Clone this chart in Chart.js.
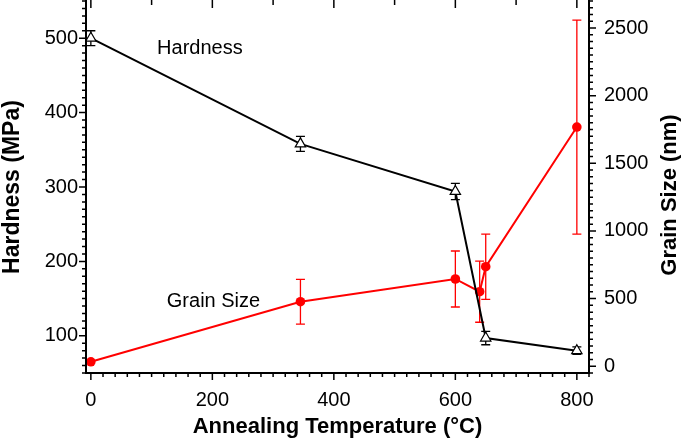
<!DOCTYPE html>
<html lang="en">

<head>
    <meta charset="UTF-8">
    <title>Hardness and Grain Size vs Annealing Temperature</title>
    <script src="https://cdn.jsdelivr.net/npm/chart.js"></script>
    <style>
        body { margin: 0; background: #fff; }
    </style>
</head>

<body>
    <canvas id="chart" width="685" height="443"></canvas>

    <script>
        // Hardness (left axis, MPa)
        const hardTemps = [0, 345, 600, 650, 800];
        const hardness = [500, 358, 294, 97, 80];
        const hardnessErr = [10, 10, 11, 9, 5];

        // Grain size (right axis, nm)
        const grainTemps = [0, 345, 600, 640, 650, 800];
        const grainSize = [33, 477, 645, 551, 736, 1768];
        const grainErr = [0, 165, 207, 226, 241, 791];

        // tick values
        const xMajor = [0, 200, 400, 600, 800];
        const hardMajor = [100, 200, 300, 400, 500];
        const grainMajor = [0, 500, 1000, 1500, 2000, 2500];

        const FONT = 'Liberation Sans, Arial, sans-serif';
        const RED = '#ff0000';

        const range = (a, b, step) => {
            const out = [];
            for (let v = a; v <= b + 1e-9; v += step) out.push(v);
            return out;
        };

        // fixed axis sizes, no extra label padding
        const fixSize = (w, h) => s => {
            if (w) s.width = w;
            if (h) s.height = h;
            s.paddingTop = 0; s.paddingBottom = 0;
            s.paddingLeft = 0; s.paddingRight = 0;
        };

        // frame, tick marks, error bars, titles
        const decor = {
            id: 'decor',
            beforeDatasetsDraw(chart) {
                const { ctx, scales } = chart;
                const x = scales.x, yl = scales.y, yr = scales.y1;
                const drawErr = (xs, ys, errs, scale, color) => {
                    ctx.save();
                    ctx.strokeStyle = color;
                    ctx.lineWidth = 1.3;
                    xs.forEach((t, i) => {
                        if (!errs[i]) return;
                        const px = x.getPixelForValue(t);
                        const top = scale.getPixelForValue(ys[i] + errs[i]);
                        const bot = scale.getPixelForValue(ys[i] - errs[i]);
                        ctx.beginPath();
                        ctx.moveTo(px, top); ctx.lineTo(px, bot);
                        ctx.moveTo(px - 4.5, top); ctx.lineTo(px + 4.5, top);
                        ctx.moveTo(px - 4.5, bot); ctx.lineTo(px + 4.5, bot);
                        ctx.stroke();
                    });
                    ctx.restore();
                };
                drawErr(grainTemps, grainSize, grainErr, yr, RED);
                drawErr(hardTemps, hardness, hardnessErr, yl, '#000');
            },
            afterDraw(chart) {
                const { ctx, chartArea: a, scales } = chart;
                const x = scales.x, yl = scales.y, yr = scales.y1;
                ctx.save();
                ctx.strokeStyle = '#000';
                ctx.lineWidth = 2;
                ctx.beginPath();
                ctx.moveTo(a.left, a.top - 1); ctx.lineTo(a.left, a.bottom);
                ctx.lineTo(a.right, a.bottom); ctx.lineTo(a.right, a.top - 1);
                ctx.stroke();

                ctx.lineWidth = 1.5;
                ctx.beginPath();
                // bottom ticks (outward)
                range(0, 820, 20).forEach(v => {
                    const p = x.getPixelForValue(v);
                    const len = v % 200 === 0 ? 7 : 4;
                    ctx.moveTo(p, a.bottom); ctx.lineTo(p, a.bottom + len);
                });
                // top ticks (inward)
                range(0, 800, 100).forEach(v => {
                    const p = x.getPixelForValue(v);
                    const len = v % 200 === 0 ? 8 : 5;
                    ctx.moveTo(p, a.top - 1); ctx.lineTo(p, a.top - 1 + len);
                });
                // left ticks
                range(50, 550, 10).forEach(v => {
                    const p = yl.getPixelForValue(v);
                    const len = v % 100 === 0 ? 7 : 4;
                    ctx.moveTo(a.left, p); ctx.lineTo(a.left - len, p);
                });
                // right ticks
                range(-50, 2700, 50).forEach(v => {
                    const p = yr.getPixelForValue(v);
                    const len = v % 500 === 0 ? 7 : 4;
                    ctx.moveTo(a.right, p); ctx.lineTo(a.right + len, p);
                });
                ctx.stroke();

                // series labels
                ctx.fillStyle = '#000';
                ctx.font = '20px ' + FONT;
                ctx.textAlign = 'left';
                ctx.textBaseline = 'alphabetic';
                ctx.fillText('Hardness', x.getPixelForValue(109), yl.getPixelForValue(479));
                ctx.fillText('Grain Size', x.getPixelForValue(125), yl.getPixelForValue(139));

                // axis titles
                ctx.font = 'bold 22px ' + FONT;
                ctx.textAlign = 'center';
                ctx.fillText('Annealing Temperature (\u00b0C)', (a.left + a.right) / 2, a.bottom + 60);

                ctx.save();
                ctx.font = 'bold 23px ' + FONT;
                ctx.translate(a.left - 67, (a.top + a.bottom) / 2);
                ctx.rotate(-Math.PI / 2);
                ctx.fillText('Hardness (MPa)', 0, 0);
                ctx.restore();

                ctx.save();
                ctx.translate(a.right + 87, (a.top + a.bottom) / 2 + 8);
                ctx.rotate(-Math.PI / 2);
                ctx.fillText('Grain Size (nm)', 0, 0);
                ctx.restore();

                ctx.restore();
            }
        };

        const tickFont = { family: FONT, size: 20 };
        const plain = v => String(v);

        new Chart(document.getElementById('chart'), {
            type: 'line',
            data: {
                datasets: [{
                    label: 'Hardness',
                    data: hardTemps.map((t, i) => ({ x: t, y: hardness[i] })),
                    yAxisID: 'y',
                    borderColor: '#000',
                    borderWidth: 2,
                    pointStyle: 'triangle',
                    pointRadius: 6,
                    pointBackgroundColor: '#fff',
                    pointBorderColor: '#000',
                    pointBorderWidth: 1.2,
                    tension: 0
                }, {
                    label: 'Grain Size',
                    data: grainTemps.map((t, i) => ({ x: t, y: grainSize[i] })),
                    yAxisID: 'y1',
                    borderColor: RED,
                    borderWidth: 2,
                    pointStyle: 'circle',
                    pointRadius: 4.8,
                    pointBackgroundColor: RED,
                    pointBorderColor: RED,
                    pointBorderWidth: 0,
                    tension: 0
                }]
            },
            options: {
                responsive: false,
                animation: false,
                devicePixelRatio: 1,
                layout: { autoPadding: false, padding: { top: 1, left: 0, right: 0, bottom: 0 } },
                plugins: {
                    legend: { display: false },
                    tooltip: { enabled: false }
                },
                scales: {
                    x: {
                        type: 'linear',
                        min: -8,
                        max: 820,
                        afterBuildTicks: s => { s.ticks = xMajor.map(v => ({ value: v })); },
                        afterFit: fixSize(0, 70),
                        grid: { display: false, drawTicks: false },
                        border: { display: false },
                        ticks: { font: tickFont, color: '#000', padding: 15, maxRotation: 0, autoSkip: false, callback: plain }
                    },
                    y: {
                        type: 'linear',
                        position: 'left',
                        min: 50,
                        max: 550,
                        afterBuildTicks: s => { s.ticks = hardMajor.map(v => ({ value: v })); },
                        afterFit: fixSize(86, 0),
                        grid: { display: false, drawTicks: false },
                        border: { display: false },
                        ticks: { font: tickFont, color: '#000', padding: 8, autoSkip: false, callback: plain }
                    },
                    y1: {
                        type: 'linear',
                        position: 'right',
                        min: -50,
                        max: 2700,
                        afterBuildTicks: s => { s.ticks = grainMajor.map(v => ({ value: v })); },
                        afterFit: fixSize(96, 0),
                        grid: { display: false, drawTicks: false },
                        border: { display: false },
                        ticks: { font: tickFont, color: '#000', padding: 15, autoSkip: false, callback: plain }
                    }
                }
            },
            plugins: [decor]
        });
    </script>
</body>

</html>
